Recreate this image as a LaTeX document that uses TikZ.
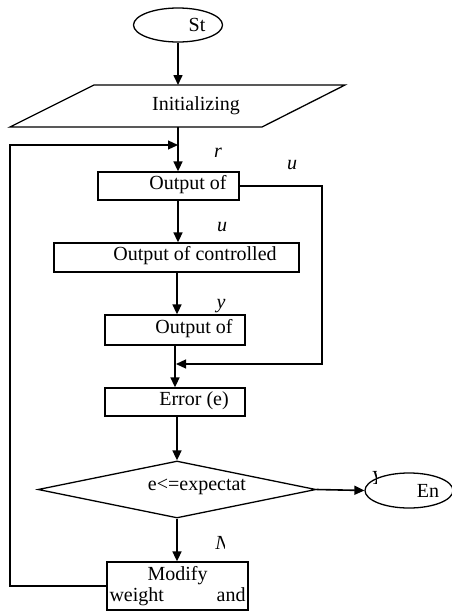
\documentclass[tikz,border=0pt]{standalone}
\usepackage{fontspec}
\setmainfont{Liberation Serif}
\usetikzlibrary{shapes.geometric,positioning,calc,arrows.meta}

\begin{document}
\begin{tikzpicture}[x=1pt,y=-1pt,
            every node/.append style={font=\fontsize{20}{23}\selectfont},
            box/.style={draw,rectangle,inner sep=0pt,line width=1.3pt},
            term/.style={draw,ellipse,inner sep=0pt,line width=1.3pt},
            flow/.style={-{Triangle[length=10pt,width=9pt]},line width=1.6pt},
            back/.style={line width=1.2pt},
            sym/.style={font=\fontsize{20}{23}\selectfont\itshape,inner sep=0pt}]
 \useasboundingbox (0,0) rectangle (451,611);

 % start and initialising
 \node[term,minimum width=89pt,minimum height=34pt] (start) at (178,25) {};
 \node (startt) at (197,25) {St};
 \draw[line width=1.3pt] (10,127) -- (94,85) -- (345,85) -- (262,127) -- cycle;
 \coordinate (inittop) at (178,85);
 \coordinate (initbot) at (178,127);
 \node (init) at (196,106) {Initializing};

 % chain of boxes
 \node[box,minimum width=141pt,minimum height=28pt] (outa) at (168.5,186) {};
 \node (outat) at (188,185) {Output of};
 \node[box,minimum width=245pt,minimum height=29pt] (outb) at (176.5,257.5) {};
 \node (outbt) at (195,256) {Output of controlled};
 \node[box,minimum width=140pt,minimum height=30pt] (outc) at (175,330) {};
 \node (outct) at (194,329) {Output of};
 \node[box,minimum width=140pt,minimum height=28pt] (err) at (175,402) {};
 \node (errt) at (194,401) {Error (e)};
 \node[draw,diamond,inner sep=0pt,line width=1.3pt,minimum width=278pt,minimum height=57pt] (dec) at (177,489.5) {};
 \node (dect) at (197,487) {e<=expectat};
 \node[term,minimum width=88pt,minimum height=35pt] (stop) at (409,490.5) {};
 \node (stopt) at (428,491) {En};
 \node[box,minimum width=141pt,minimum height=48pt,align=center] (mod) at (177.5,586)
   {Modify\\[-2pt]\makebox[136pt][s]{weight\hfill and}};

 % arrow columns
 \coordinate (cola) at (178,0);
 \coordinate (colb) at (177,0);
 \coordinate (colc) at (175,0);

 % arrows down
 \draw[flow] (start) -- (inittop);
 \draw[flow] (initbot) -- (initbot |- outa.north);
 \draw[flow] (cola |- outa.south) -- (cola |- outb.north);
 \draw[flow] (colb |- outb.south) -- (colb |- outc.north);
 \draw[flow] (colc |- outc.south) -- (colc |- err.north);
 \draw[flow] (dec.north |- err.south) -- (dec.north);
 \draw[flow] (dec.east) -- (stop.west);
 \draw[flow] (dec.south) -- (dec.south |- mod.north);

 % feedback paths
 \coordinate (fbin) at (178,145);
 \coordinate (merge) at (176,364);
 \draw[back,-{Triangle[length=10pt,width=9pt]}] (mod.west) -- (10,586) -- (10,145) -- (fbin);
 \draw[back,-{Triangle[length=10pt,width=9pt]}] (outa.east) -- (322,186) -- (322,364) -- (merge);

 % signal labels
 \node[sym] (rlbl) at (218,153) {r};
 \node[sym] (ulbla) at (292,165) {u};
 \node[sym] (ulblb) at (222,227) {u};
 \node[sym] (ylbl) at (221,306) {y};
 \begin{scope}
   \clip (360,465) rectangle (376,486);
   \node[sym] (yeslbl) at (377,478) {Y};
 \end{scope}
 \begin{scope}
   \clip (205,530) rectangle (224,556);
   \node[sym] (nolbl) at (222,543) {N};
 \end{scope}
\end{tikzpicture}
\end{document}
